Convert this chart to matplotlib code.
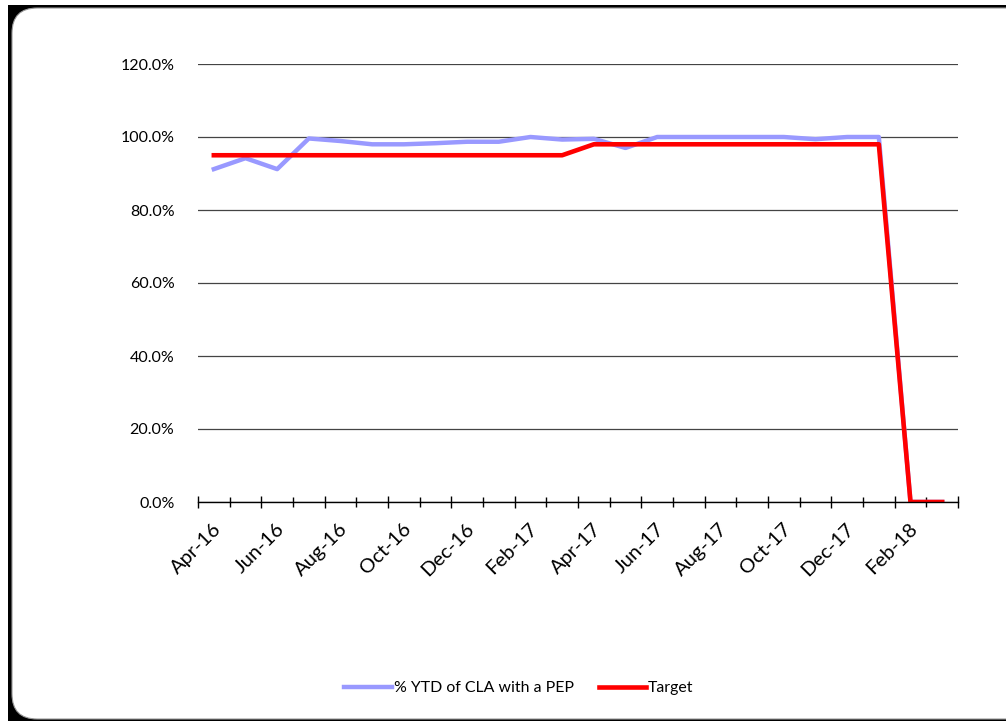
import matplotlib
matplotlib.use("Agg")
import matplotlib.pyplot as plt
import matplotlib.ticker as ticker
from matplotlib.patches import Rectangle, FancyBboxPatch
import numpy as np

plt.rcParams['font.family'] = ['Lato', 'DejaVu Sans']

months = ["Apr-16", "May-16", "Jun-16", "Jul-16", "Aug-16", "Sep-16", "Oct-16", "Nov-16",
          "Dec-16", "Jan-17", "Feb-17", "Mar-17", "Apr-17", "May-17", "Jun-17", "Jul-17",
          "Aug-17", "Sep-17", "Oct-17", "Nov-17", "Dec-17", "Jan-18", "Feb-18", "Mar-18"]
pep = [0.912, 0.942, 0.912, 0.996, 0.989, 0.980, 0.980, 0.983, 0.987, 0.987, 1.000, 0.993,
       0.995, 0.970, 1.000, 1.000, 1.000, 1.000, 1.000, 0.994, 1.000, 1.000, 0.0, 0.0]
target = [0.95] * 12 + [0.98] * 10 + [0.0, 0.0]

fig = plt.figure(figsize=(10.06, 7.21), dpi=100)

# frame: black shadow on left/top, rounded white panel
W, H = 1006, 721
fig.patches.append(Rectangle((8 / W, 0), 1, 1 - 5 / H, transform=fig.transFigure,
                             facecolor="black", edgecolor="none", zorder=-3))
fig.patches.append(FancyBboxPatch((12 / W, 2 / H), 1.2, 1 - 10 / H,
                                  boxstyle="round,pad=0,rounding_size=0.025",
                                  mutation_aspect=W / H,
                                  transform=fig.transFigure, facecolor="white",
                                  edgecolor="#999999", lw=0.8, zorder=-2))

ax = fig.add_axes([198 / W, 1 - 502 / H, 760 / W, (502 - 64) / H])
ax.set_facecolor("none")

x = np.arange(len(months))
ax.plot(x, pep, color="#9999FF", lw=3.2, solid_joinstyle="round", label="% YTD of CLA with a PEP", zorder=3)
ax.plot(x, target, color="#FF0000", lw=3.3, solid_joinstyle="round", label="Target", zorder=4)

ax.set_xlim(-0.5, len(months) - 0.5)
ax.set_ylim(0, 1.2)
ax.yaxis.set_major_locator(ticker.MultipleLocator(0.2))
ax.yaxis.set_major_formatter(ticker.FuncFormatter(lambda v, p: "%.1f%%" % (v * 100)))
ax.grid(axis="y", color="#444444", lw=0.9)
ax.set_axisbelow(True)
ax.tick_params(axis="y", length=0, pad=17, labelsize=11.5)

for s in ["left", "right", "top"]:
    ax.spines[s].set_visible(False)
ax.spines["bottom"].set_color("black")
ax.spines["bottom"].set_linewidth(1)
ax.spines["bottom"].set_zorder(5)

# ticks between categories, labels every other month
ax.set_xticks(np.arange(-0.5, len(months), 2))
ax.set_xticks(np.arange(0.5, len(months), 2), minor=True)
ax.tick_params(axis="x", which="major", direction="inout", length=9, width=1, labelbottom=False)
ax.tick_params(axis="x", which="minor", direction="inout", length=7, width=1)
for i in range(0, len(months), 2):
    ax.text(i - 0.05, -0.05, months[i], rotation=45, ha="right", va="top",
            rotation_mode="anchor", fontsize=14.5, transform=ax.transData)

fig.legend(loc="center", bbox_to_anchor=(519 / W, 1 - 688 / H), ncol=2, frameon=False,
           fontsize=11.4, handlelength=3.0, handletextpad=0.1, columnspacing=1.6)

fig.savefig("out.png", dpi=100)
